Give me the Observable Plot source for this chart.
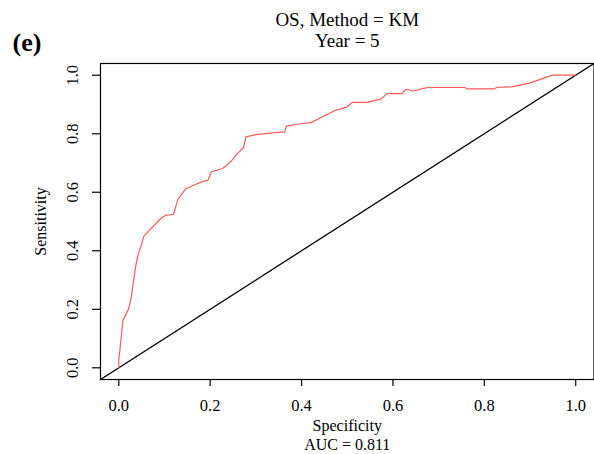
<!DOCTYPE html>
<html>
<head>
<meta charset="utf-8">
<script src="https://cdn.jsdelivr.net/npm/d3@7"></script>
<script src="https://cdn.jsdelivr.net/npm/@observablehq/plot@0.6"></script>
<style>
  html, body { margin: 0; padding: 0; background: white; }
</style>
</head>
<body>
<div id="chart"></div>
<script>
// ROC curve (x = 1 - specificity, y = sensitivity)
const fpr = [0, 0.000, 0.002, 0.009, 0.021, 0.027, 0.031, 0.038, 0.043, 0.048, 0.055, 0.093, 0.104, 0.120, 0.129, 0.147, 0.184, 0.195, 0.203, 0.227, 0.245, 0.256, 0.273, 0.278, 0.300, 0.322, 0.341, 0.363, 0.367, 0.398, 0.421, 0.474, 0.500, 0.511, 0.543, 0.573, 0.587, 0.620, 0.629, 0.645, 0.666, 0.678, 0.758, 0.762, 0.821, 0.827, 0.860, 0.900, 0.943, 0.951, 1.0];
const tpr = [0, 0.030, 0.054, 0.162, 0.199, 0.237, 0.282, 0.356, 0.390, 0.413, 0.450, 0.512, 0.522, 0.524, 0.575, 0.613, 0.637, 0.641, 0.670, 0.681, 0.704, 0.726, 0.753, 0.789, 0.797, 0.800, 0.804, 0.806, 0.826, 0.834, 0.838, 0.880, 0.892, 0.907, 0.907, 0.918, 0.937, 0.937, 0.952, 0.946, 0.955, 0.958, 0.958, 0.953, 0.953, 0.958, 0.960, 0.974, 0.997, 1.0, 1.0];
const diagX = [-0.04, 1.04];
const diagY = [-0.04, 1.04];
const xTicks = [0, 0.2, 0.4, 0.6, 0.8, 1.0];
const yTicks = [0, 0.2, 0.4, 0.6, 0.8, 1.0];
const titleLines = ["OS, Method = KM", "Year = 5"];
const panelLabel = "(e)";
const xLabel = "Specificity";
const yLabel = "Sensitivity";
const aucLabel = "AUC = 0.811";

const roc = fpr.map((x, i) => ({x, y: tpr[i]}));
const diag = diagX.map((x, i) => ({x, y: diagY[i]}));

const chart = Plot.plot({
  width: 594,
  height: 454,
  marginLeft: 100,
  marginRight: 0.5,
  marginTop: 63,
  marginBottom: 75,
  style: {fontFamily: "Liberation Serif", fontSize: "16px", background: "white", color: "black", overflow: "visible"},
  x: {domain: [-0.04, 1.04]},
  y: {domain: [-0.04, 1.04]},
  marks: [
    Plot.line(diag, {x: "x", y: "y", stroke: "black", strokeWidth: 1.3, clip: true}),
    Plot.line(roc, {x: "x", y: "y", stroke: "#ff5a5a", strokeWidth: 1.2}),
    Plot.frame({stroke: "black", strokeWidth: 1.2}),
    Plot.axisX({ticks: xTicks, tickSize: 7, tickPadding: 13, tickFormat: d3.format(".1f"), label: null, stroke: "black", strokeWidth: 1.2, fontSize: 16.5}),
    Plot.axisY({ticks: yTicks, tickSize: 8, tickFormat: () => "", label: null, stroke: "black", strokeWidth: 1.2}),
    Plot.text(yTicks, {y: d => d, frameAnchor: "left", dx: -28, rotate: -90, text: d3.format(".1f"), textAnchor: "middle", lineAnchor: "middle", fontSize: 16.5}),
    Plot.text([yLabel], {frameAnchor: "left", dx: -60, rotate: -90, text: d => d, textAnchor: "middle", lineAnchor: "middle", fontSize: 16}),
    Plot.text([xLabel], {frameAnchor: "bottom", dy: 46.5, text: d => d, lineAnchor: "middle", fontSize: 16}),
    Plot.text([aucLabel], {frameAnchor: "bottom", dy: 65, text: d => d, lineAnchor: "middle", fontSize: 16}),
    Plot.text([titleLines[0]], {frameAnchor: "top", dy: -44, text: d => d, lineAnchor: "middle", fontSize: 19}),
    Plot.text([titleLines[1]], {frameAnchor: "top", dy: -22.4, text: d => d, lineAnchor: "middle", fontSize: 19}),
    Plot.text([panelLabel], {frameAnchor: "top-left", dx: -88, dy: -21, text: d => d, textAnchor: "start", lineAnchor: "middle", fontSize: 26, fontWeight: "bold"})
  ]
});
document.getElementById("chart").appendChild(chart);
</script>
</body>
</html>
